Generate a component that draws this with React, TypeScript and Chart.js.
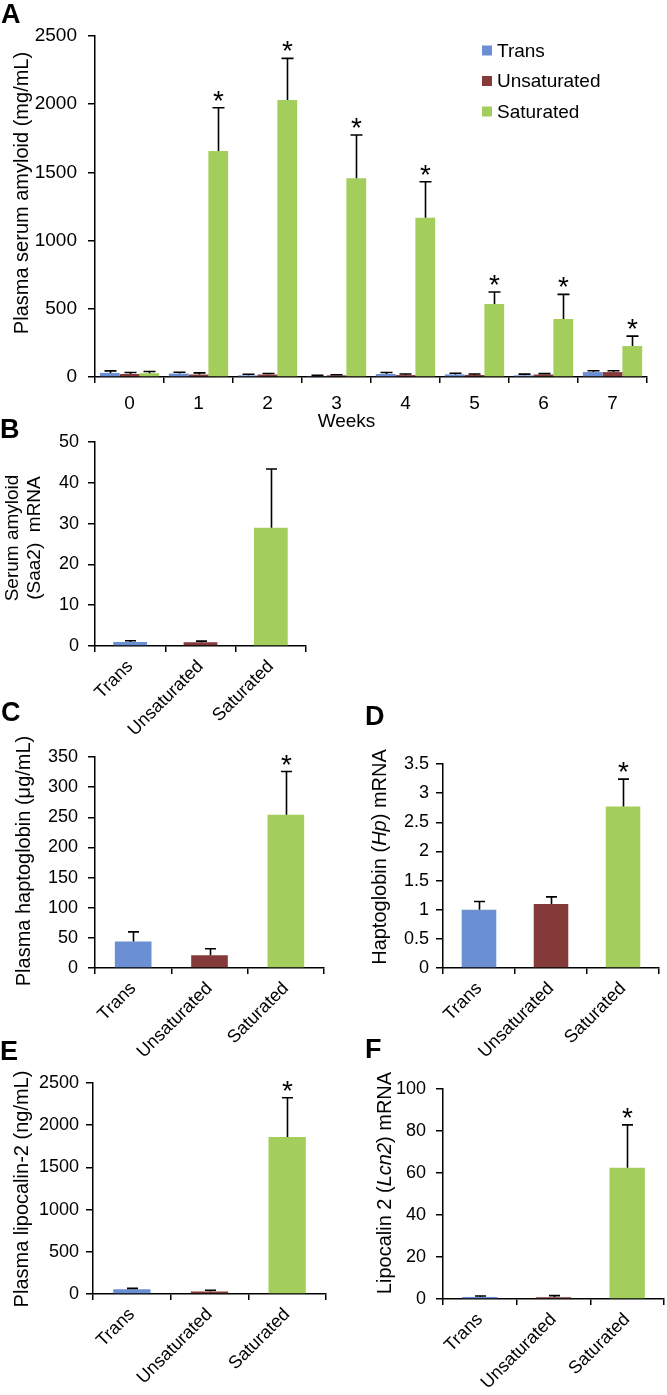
import React, { useEffect, useRef } from 'react';
import { Chart, registerables } from 'chart.js';
Chart.register(...registerables);

const FONT = '"Liberation Sans", Arial, Helvetica, sans-serif';
const COLORS = ['#6a8fd3', '#853a3a', '#a4ce5b'];

// ---- Panel A: plasma serum amyloid over weeks ----
const weekLabels = ['0', '1', '2', '3', '4', '5', '6', '7'];
const seriesNames = ['Trans', 'Unsaturated', 'Saturated'];
const saaTrans = [30, 25, 12, 7, 22, 19, 12, 36];
const saaTransErr = [15, 10, 8, 5, 11, 9, 9, 10];
const saaUnsat = [22, 18, 18, 12, 14, 15, 18, 36];
const saaUnsatErr = [11, 12, 8, 5, 8, 7, 7, 10];
const saaSat = [28, 1657, 2031, 1457, 1168, 535, 425, 227];
const saaSatErr = [12, 317, 305, 317, 264, 88, 181, 73];
const saaSatSig = [false, true, true, true, true, true, true, true];
const noSig8 = [false, false, false, false, false, false, false, false];

// ---- Panels B-F: by diet ----
const dietLabels = ['Trans', 'Unsaturated', 'Saturated'];
const saa2Mrna = [1.0, 0.9, 29.0];
const saa2MrnaErr = [0.3, 0.3, 14.4];
const saa2MrnaSig = [false, false, false];
const hpPlasma = [44, 21, 254];
const hpPlasmaErr = [16, 11, 72];
const hpPlasmaSig = [false, false, true];
const hpMrna = [1.0, 1.1, 2.77];
const hpMrnaErr = [0.14, 0.12, 0.47];
const hpMrnaSig = [false, false, true];
const lcnPlasma = [55, 30, 1859];
const lcnPlasmaErr = [12, 15, 466];
const lcnPlasmaSig = [false, false, true];
const lcnMrna = [1.0, 0.8, 62.5];
const lcnMrnaErr = [0.4, 0.8, 20.4];
const lcnMrnaSig = [false, false, true];

type Seg = { t: string; i?: boolean };
type DS = { label: string; data: number[]; errors: number[]; sig: boolean[]; color: string | string[] };
type Spec = {
  box: { l: number; t: number; w: number; h: number };
  area: { l: number; t: number; r: number; b: number };
  labels: string[];
  datasets: DS[];
  yMax: number;
  yStep: number;
  rotate: boolean;
  yTickSize: number;
  xTickSize: number;
  yPad: number;
  xPad: number;
  title: Seg[][];
  titleX: number;
  titleY: number;
  titleSize: number;
  titleGap: number;
  catPct: number;
  barPct: number;
  capW: number;
  starSize: number;
  legend?: boolean;
};

function errorBarPlugin(spec: Spec) {
  return {
    id: 'errbars',
    afterDatasetsDraw(chart: any) {
      const ctx = chart.ctx;
      const ys = chart.scales.y;
      chart.data.datasets.forEach((ds: any, di: number) => {
        const meta = chart.getDatasetMeta(di);
        meta.data.forEach((bar: any, i: number) => {
          const v = ds.data[i];
          const e = ds.errors[i];
          const yv = ys.getPixelForValue(v);
          const yt = ys.getPixelForValue(v + e);
          const x = Math.round(bar.x) + 0.5;
          ctx.save();
          ctx.strokeStyle = '#000';
          ctx.lineWidth = 1.6;
          ctx.beginPath();
          ctx.moveTo(x, yv);
          ctx.lineTo(x, yt);
          ctx.moveTo(x - spec.capW / 2, yt);
          ctx.lineTo(x + spec.capW / 2, yt);
          ctx.stroke();
          if (ds.sig[i]) {
            ctx.fillStyle = '#000';
            ctx.font = `${spec.starSize}px ${FONT}`;
            ctx.textAlign = 'center';
            ctx.textBaseline = 'alphabetic';
            const cy = yt - 14;
            ctx.fillText('*', x, cy + 0.575 * spec.starSize);
          }
          ctx.restore();
        });
      });
    },
  };
}

function yTitlePlugin(spec: Spec) {
  return {
    id: 'ytitle',
    afterDraw(chart: any) {
      const ctx = chart.ctx;
      const cx = spec.titleX - spec.box.l;
      const cy = spec.titleY - spec.box.t;
      ctx.save();
      ctx.translate(cx, cy);
      ctx.rotate(-Math.PI / 2);
      ctx.fillStyle = '#000';
      ctx.textBaseline = 'middle';
      ctx.textAlign = 'left';
      const n = spec.title.length;
      spec.title.forEach((line, li) => {
        const fonts = line.map((s) => `${s.i ? 'italic ' : ''}${spec.titleSize}px ${FONT}`);
        const widths = line.map((s, k) => {
          ctx.font = fonts[k];
          return ctx.measureText(s.t).width;
        });
        const total = widths.reduce((a, b) => a + b, 0);
        let x = -total / 2;
        const y = (li - (n - 1) / 2) * spec.titleGap;
        line.forEach((s, k) => {
          ctx.font = fonts[k];
          ctx.fillText(s.t, x, y);
          x += widths[k];
        });
      });
      ctx.restore();
    },
  };
}

function legendPlugin(spec: Spec) {
  return {
    id: 'legendA',
    afterDraw(chart: any) {
      const ctx = chart.ctx;
      const size = 19;
      const x0 = 482 - spec.box.l;
      const rows = [50, 80.5, 111];
      ctx.save();
      chart.data.datasets.forEach((ds: any, i: number) => {
        const cy = rows[i] - spec.box.t;
        ctx.fillStyle = ds.backgroundColor;
        ctx.fillRect(x0, cy - 4.5, 10, 10);
        ctx.fillStyle = '#000';
        ctx.font = `${size}px ${FONT}`;
        ctx.textAlign = 'left';
        ctx.textBaseline = 'alphabetic';
        ctx.fillText(ds.label, x0 + 15, cy + 0.358 * size);
      });
      ctx.restore();
    },
  };
}

function Panel({ spec }: { spec: Spec }) {
  const ref = useRef<HTMLCanvasElement>(null);
  useEffect(() => {
    const c = ref.current as HTMLCanvasElement;
    const { box, area } = spec;
    const plugins: any[] = [errorBarPlugin(spec), yTitlePlugin(spec)];
    if (spec.legend) plugins.push(legendPlugin(spec));
    const chart = new Chart(c, {
      type: 'bar',
      data: {
        labels: spec.labels,
        datasets: spec.datasets.map((d) => ({
          label: d.label,
          data: d.data,
          backgroundColor: d.color as any,
          borderWidth: 0,
          categoryPercentage: spec.catPct,
          barPercentage: spec.barPct,
          errors: d.errors,
          sig: d.sig,
        })) as any,
      },
      options: {
        responsive: false,
        animation: false,
        devicePixelRatio: 1,
        layout: { padding: { top: area.t - box.t, right: box.l + box.w - area.r, left: 0, bottom: 0 } },
        plugins: { legend: { display: false }, tooltip: { enabled: false } },
        scales: {
          x: {
            grid: { display: true, drawOnChartArea: false, drawTicks: true, tickLength: 6, color: '#000', lineWidth: 1.5, offset: true },
            border: { display: true, color: '#000', width: 1.5 },
            ticks: {
              color: '#000',
              font: { family: FONT, size: spec.xTickSize },
              padding: spec.xPad,
              minRotation: spec.rotate ? 45 : 0,
              maxRotation: spec.rotate ? 45 : 0,
              autoSkip: false,
            },
            afterFit: (s: any) => {
              s.height = box.t + box.h - area.b;
            },
          },
          y: {
            min: 0,
            max: spec.yMax,
            grid: { display: true, drawOnChartArea: false, drawTicks: true, tickLength: 7, color: '#000', lineWidth: 1.5 },
            border: { display: true, color: '#000', width: 1.5 },
            ticks: {
              stepSize: spec.yStep,
              color: '#000',
              font: { family: FONT, size: spec.yTickSize },
              padding: spec.yPad,
              callback: (v: any) => String(Math.round(Number(v) * 100) / 100),
            },
            afterFit: (s: any) => {
              s.width = area.l - box.l;
            },
          },
        },
      } as any,
      plugins,
    });
    return () => chart.destroy();
  }, []);
  return (
    <canvas
      ref={ref}
      width={spec.box.w}
      height={spec.box.h}
      style={{ position: 'absolute', left: spec.box.l, top: spec.box.t, width: spec.box.w, height: spec.box.h }}
    />
  );
}

const single = (data: number[], errors: number[], sig: boolean[]): DS[] => [
  { label: 'value', data, errors, sig, color: COLORS },
];

const small = {
  rotate: true,
  yTickSize: 18,
  xTickSize: 18,
  xPad: 4,
  titleSize: 20,
  titleGap: 22,
  catPct: 1,
  barPct: 0.48,
  capW: 11,
  starSize: 28,
};

const specA: Spec = {
  box: { l: 0, t: 0, w: 667, h: 440 },
  area: { l: 95, t: 36, r: 647, b: 377 },
  labels: weekLabels,
  datasets: [
    { label: seriesNames[0], data: saaTrans, errors: saaTransErr, sig: noSig8, color: COLORS[0] },
    { label: seriesNames[1], data: saaUnsat, errors: saaUnsatErr, sig: noSig8, color: COLORS[1] },
    { label: seriesNames[2], data: saaSat, errors: saaSatErr, sig: saaSatSig, color: COLORS[2] },
  ],
  yMax: 2500,
  yStep: 500,
  rotate: false,
  yTickSize: 19,
  xTickSize: 19,
  yPad: 11,
  xPad: 9,
  title: [[{ t: 'Plasma serum amyloid (mg/mL)' }]],
  titleX: 22.5,
  titleY: 193,
  titleSize: 20,
  titleGap: 22,
  catPct: 0.86,
  barPct: 1,
  capW: 12,
  starSize: 28,
  legend: true,
};

const specB: Spec = {
  ...small,
  box: { l: 0, t: 400, w: 330, h: 345 },
  area: { l: 95, t: 442, r: 306, b: 646 },
  labels: dietLabels,
  datasets: single(saa2Mrna, saa2MrnaErr, saa2MrnaSig),
  yMax: 50,
  yStep: 10,
  yPad: 9,
  title: [[{ t: 'Serum amyloid' }], [{ t: '(' }, { t: 'Saa2' }, { t: ')  mRNA' }]],
  titleX: 24,
  titleY: 538,
  titleSize: 19,
  titleGap: 22,
};

const specC: Spec = {
  ...small,
  box: { l: 0, t: 700, w: 330, h: 370 },
  area: { l: 95, t: 757, r: 324, b: 968 },
  labels: dietLabels,
  datasets: single(hpPlasma, hpPlasmaErr, hpPlasmaSig),
  yMax: 350,
  yStep: 50,
  yPad: 10,
  title: [[{ t: 'Plasma haptoglobin (μg/mL)' }]],
  titleX: 24,
  titleY: 861,
};

const specD: Spec = {
  ...small,
  box: { l: 330, t: 700, w: 337, h: 370 },
  area: { l: 443, t: 764, r: 659, b: 968 },
  labels: dietLabels,
  datasets: single(hpMrna, hpMrnaErr, hpMrnaSig),
  yMax: 3.5,
  yStep: 0.5,
  yPad: 7,
  title: [[{ t: 'Haptoglobin ' }, { t: '(' }, { t: 'Hp', i: true }, { t: ') mRNA' }]],
  titleX: 380,
  titleY: 857,
};

const specE: Spec = {
  ...small,
  box: { l: 0, t: 1030, w: 330, h: 365 },
  area: { l: 93, t: 1083, r: 326, b: 1294 },
  labels: dietLabels,
  datasets: single(lcnPlasma, lcnPlasmaErr, lcnPlasmaSig),
  yMax: 2500,
  yStep: 500,
  yPad: 7,
  title: [[{ t: 'Plasma lipocalin-2 (ng/mL)' }]],
  titleX: 22,
  titleY: 1189,
};

const specF: Spec = {
  ...small,
  box: { l: 330, t: 1030, w: 337, h: 365 },
  area: { l: 443, t: 1089, r: 664, b: 1299 },
  labels: dietLabels,
  datasets: single(lcnMrna, lcnMrnaErr, lcnMrnaSig),
  yMax: 100,
  yStep: 20,
  yPad: 10,
  title: [[{ t: 'Lipocalin 2 (' }, { t: 'Lcn2', i: true }, { t: ') mRNA' }]],
  titleX: 385,
  titleY: 1183,
};

const letterStyle = (l: number, capTop: number): React.CSSProperties => ({
  position: 'absolute',
  left: l,
  top: capTop - 0.1305 * 27,
  fontFamily: FONT,
  fontWeight: 'bold',
  fontSize: 27,
  lineHeight: 1,
  color: '#000',
});

export default function App() {
  return (
    <div style={{ position: 'absolute', left: 0, top: 0, width: 667, height: 1395, background: '#fff', overflow: 'hidden' }}>
      <Panel spec={specA} />
      <Panel spec={specB} />
      <Panel spec={specC} />
      <Panel spec={specD} />
      <Panel spec={specE} />
      <Panel spec={specF} />
      <div
        style={{
          position: 'absolute',
          left: 296.5,
          width: 100,
          top: 413 - 0.1305 * 19,
          textAlign: 'center',
          fontFamily: FONT,
          fontSize: 19,
          lineHeight: 1,
          color: '#000',
        }}
      >
        Weeks
      </div>
      <div style={letterStyle(1, 5)}>A</div>
      <div style={letterStyle(0, 420)}>B</div>
      <div style={letterStyle(1, 703)}>C</div>
      <div style={letterStyle(365, 707)}>D</div>
      <div style={letterStyle(0, 1042)}>E</div>
      <div style={letterStyle(365, 1040)}>F</div>
    </div>
  );
}
